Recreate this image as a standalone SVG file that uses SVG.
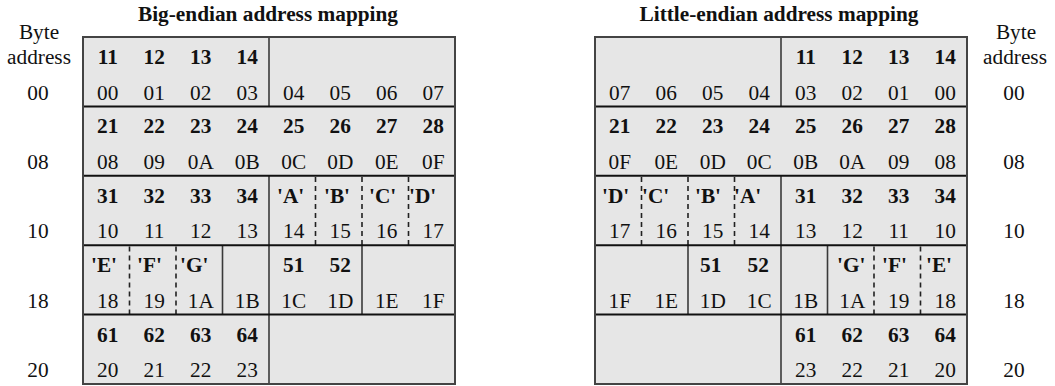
<svg xmlns="http://www.w3.org/2000/svg" width="1055" height="386" viewBox="0 0 1055 386">
<style>
text{font-family:"Liberation Serif","Times New Roman",serif;font-size:21.3px;fill:#111}
.t{font-weight:bold;text-anchor:middle}
.b{font-weight:bold;text-anchor:middle}
.q{font-weight:bold}
.h{text-anchor:middle}
.lab{text-anchor:middle}
.bg{fill:#e6e6e6;stroke:none}
.sv{stroke:#3a3a3a;stroke-width:1.6}
.dv{stroke:#222;stroke-width:1.6;stroke-dasharray:5 4}
.hr{stroke:#111;stroke-width:2}
.ob{fill:none;stroke:#444;stroke-width:2}
</style>

<text class="t" x="268" y="21">Big-endian address mapping</text>
<text class="t" x="779" y="21">Little-endian address mapping</text>

<g id="addr-left">
<text class="lab" x="39" y="39">Byte</text>
<text class="lab" x="39" y="64">address</text>
<text class="lab" x="38" y="99.5">00</text>
<text class="lab" x="38" y="168.9">08</text>
<text class="lab" x="38" y="238.3">10</text>
<text class="lab" x="38" y="307.7">18</text>
<text class="lab" x="38" y="377.1">20</text>
</g>
<g id="addr-right">
<text class="lab" x="1016" y="39">Byte</text>
<text class="lab" x="1015" y="64">address</text>
<text class="lab" x="1014" y="99.5">00</text>
<text class="lab" x="1014" y="168.9">08</text>
<text class="lab" x="1014" y="238.3">10</text>
<text class="lab" x="1014" y="307.7">18</text>
<text class="lab" x="1014" y="377.1">20</text>
</g>

<g id="big-endian">
<rect class="bg" x="83" y="37" width="372" height="347"/>
<g id="be-row0">
<line class="sv" x1="269" y1="37" x2="269" y2="106.4"/>
<text class="b" x="107.75" y="64">11</text><text class="b" x="154.25" y="64">12</text><text class="b" x="200.75" y="64">13</text><text class="b" x="247.25" y="64">14</text>
<text class="h" x="107.75" y="99.5">00</text><text class="h" x="154.25" y="99.5">01</text><text class="h" x="200.75" y="99.5">02</text><text class="h" x="247.25" y="99.5">03</text>
<text class="h" x="293.75" y="99.5">04</text><text class="h" x="340.25" y="99.5">05</text><text class="h" x="386.75" y="99.5">06</text><text class="h" x="433.25" y="99.5">07</text>
</g>
<g id="be-row1">
<text class="b" x="107.75" y="133.4">21</text><text class="b" x="154.25" y="133.4">22</text><text class="b" x="200.75" y="133.4">23</text><text class="b" x="247.25" y="133.4">24</text>
<text class="b" x="293.75" y="133.4">25</text><text class="b" x="340.25" y="133.4">26</text><text class="b" x="386.75" y="133.4">27</text><text class="b" x="433.25" y="133.4">28</text>
<text class="h" x="107.75" y="168.9">08</text><text class="h" x="154.25" y="168.9">09</text><text class="h" x="200.75" y="168.9">0A</text><text class="h" x="247.25" y="168.9">0B</text>
<text class="h" x="293.75" y="168.9">0C</text><text class="h" x="340.25" y="168.9">0D</text><text class="h" x="386.75" y="168.9">0E</text><text class="h" x="433.25" y="168.9">0F</text>
</g>
<g id="be-row2">
<line class="sv" x1="269" y1="175.8" x2="269" y2="245.2"/>
<line class="dv" x1="315.5" y1="177" x2="315.5" y2="245.2"/>
<line class="dv" x1="362" y1="177" x2="362" y2="245.2"/>
<line class="dv" x1="408.5" y1="177" x2="408.5" y2="245.2"/>
<text class="b" x="107.75" y="202.8">31</text><text class="b" x="154.25" y="202.8">32</text><text class="b" x="200.75" y="202.8">33</text><text class="b" x="247.25" y="202.8">34</text>
<text class="q" x="277" y="202.8">'A'</text><text class="q" x="324" y="202.8">'B'</text><text class="q" x="369" y="202.8">'C'</text><text class="q" x="409" y="202.8">'D'</text>
<text class="h" x="107.75" y="238.3">10</text><text class="h" x="154.25" y="238.3">11</text><text class="h" x="200.75" y="238.3">12</text><text class="h" x="247.25" y="238.3">13</text>
<text class="h" x="293.75" y="238.3">14</text><text class="h" x="340.25" y="238.3">15</text><text class="h" x="386.75" y="238.3">16</text><text class="h" x="433.25" y="238.3">17</text>
</g>
<g id="be-row3">
<line class="dv" x1="129.5" y1="246.4" x2="129.5" y2="314.6"/>
<line class="dv" x1="176" y1="246.4" x2="176" y2="314.6"/>
<line class="sv" x1="222.5" y1="245.2" x2="222.5" y2="314.6"/>
<line class="sv" x1="269" y1="245.2" x2="269" y2="314.6"/>
<line class="sv" x1="362" y1="245.2" x2="362" y2="314.6"/>
<text class="q" x="91" y="272.2">'E'</text><text class="q" x="137" y="272.2">'F'</text><text class="q" x="180" y="272.2">'G'</text>
<text class="b" x="293.75" y="272.2">51</text><text class="b" x="340.25" y="272.2">52</text>
<text class="h" x="107.75" y="307.7">18</text><text class="h" x="154.25" y="307.7">19</text><text class="h" x="200.75" y="307.7">1A</text><text class="h" x="247.25" y="307.7">1B</text>
<text class="h" x="293.75" y="307.7">1C</text><text class="h" x="340.25" y="307.7">1D</text><text class="h" x="386.75" y="307.7">1E</text><text class="h" x="433.25" y="307.7">1F</text>
</g>
<g id="be-row4">
<line class="sv" x1="269" y1="314.6" x2="269" y2="384"/>
<text class="b" x="107.75" y="341.6">61</text><text class="b" x="154.25" y="341.6">62</text><text class="b" x="200.75" y="341.6">63</text><text class="b" x="247.25" y="341.6">64</text>
<text class="h" x="107.75" y="377.1">20</text><text class="h" x="154.25" y="377.1">21</text><text class="h" x="200.75" y="377.1">22</text><text class="h" x="247.25" y="377.1">23</text>
</g>
<line class="hr" x1="83" y1="106.4" x2="455" y2="106.4"/>
<line class="hr" x1="83" y1="175.8" x2="455" y2="175.8"/>
<line class="hr" x1="83" y1="245.2" x2="455" y2="245.2"/>
<line class="hr" x1="83" y1="314.6" x2="455" y2="314.6"/>
<rect class="ob" x="83" y="37" width="372" height="347"/>
</g>

<g id="little-endian">
<rect class="bg" x="595" y="37" width="372" height="347"/>
<g id="le-row0">
<line class="sv" x1="781" y1="37" x2="781" y2="106.4"/>
<text class="b" x="805.75" y="64">11</text><text class="b" x="852.25" y="64">12</text><text class="b" x="898.75" y="64">13</text><text class="b" x="945.25" y="64">14</text>
<text class="h" x="619.75" y="99.5">07</text><text class="h" x="666.25" y="99.5">06</text><text class="h" x="712.75" y="99.5">05</text><text class="h" x="759.25" y="99.5">04</text>
<text class="h" x="805.75" y="99.5">03</text><text class="h" x="852.25" y="99.5">02</text><text class="h" x="898.75" y="99.5">01</text><text class="h" x="945.25" y="99.5">00</text>
</g>
<g id="le-row1">
<text class="b" x="619.75" y="133.4">21</text><text class="b" x="666.25" y="133.4">22</text><text class="b" x="712.75" y="133.4">23</text><text class="b" x="759.25" y="133.4">24</text>
<text class="b" x="805.75" y="133.4">25</text><text class="b" x="852.25" y="133.4">26</text><text class="b" x="898.75" y="133.4">27</text><text class="b" x="945.25" y="133.4">28</text>
<text class="h" x="619.75" y="168.9">0F</text><text class="h" x="666.25" y="168.9">0E</text><text class="h" x="712.75" y="168.9">0D</text><text class="h" x="759.25" y="168.9">0C</text>
<text class="h" x="805.75" y="168.9">0B</text><text class="h" x="852.25" y="168.9">0A</text><text class="h" x="898.75" y="168.9">09</text><text class="h" x="945.25" y="168.9">08</text>
</g>
<g id="le-row2">
<line class="dv" x1="641.5" y1="177" x2="641.5" y2="245.2"/>
<line class="dv" x1="688" y1="177" x2="688" y2="245.2"/>
<line class="dv" x1="734.5" y1="177" x2="734.5" y2="245.2"/>
<line class="sv" x1="781" y1="175.8" x2="781" y2="245.2"/>
<text class="q" x="602" y="202.8">'D'</text><text class="q" x="642" y="202.8">'C'</text><text class="q" x="695" y="202.8">'B'</text><text class="q" x="734" y="202.8">'A'</text>
<text class="b" x="805.75" y="202.8">31</text><text class="b" x="852.25" y="202.8">32</text><text class="b" x="898.75" y="202.8">33</text><text class="b" x="945.25" y="202.8">34</text>
<text class="h" x="619.75" y="238.3">17</text><text class="h" x="666.25" y="238.3">16</text><text class="h" x="712.75" y="238.3">15</text><text class="h" x="759.25" y="238.3">14</text>
<text class="h" x="805.75" y="238.3">13</text><text class="h" x="852.25" y="238.3">12</text><text class="h" x="898.75" y="238.3">11</text><text class="h" x="945.25" y="238.3">10</text>
</g>
<g id="le-row3">
<line class="sv" x1="688" y1="245.2" x2="688" y2="314.6"/>
<line class="sv" x1="781" y1="245.2" x2="781" y2="314.6"/>
<line class="sv" x1="827.5" y1="245.2" x2="827.5" y2="314.6"/>
<line class="dv" x1="874" y1="246.4" x2="874" y2="314.6"/>
<line class="dv" x1="920.5" y1="246.4" x2="920.5" y2="314.6"/>
<text class="b" x="710.75" y="272.2">51</text><text class="b" x="758.25" y="272.2">52</text>
<text class="q" x="837" y="272.2">'G'</text><text class="q" x="882" y="272.2">'F'</text><text class="q" x="926" y="272.2">'E'</text>
<text class="h" x="619.75" y="307.7">1F</text><text class="h" x="666.25" y="307.7">1E</text><text class="h" x="712.75" y="307.7">1D</text><text class="h" x="759.25" y="307.7">1C</text>
<text class="h" x="805.75" y="307.7">1B</text><text class="h" x="852.25" y="307.7">1A</text><text class="h" x="898.75" y="307.7">19</text><text class="h" x="945.25" y="307.7">18</text>
</g>
<g id="le-row4">
<line class="sv" x1="781" y1="314.6" x2="781" y2="384"/>
<text class="b" x="805.75" y="341.6">61</text><text class="b" x="852.25" y="341.6">62</text><text class="b" x="898.75" y="341.6">63</text><text class="b" x="945.25" y="341.6">64</text>
<text class="h" x="805.75" y="377.1">23</text><text class="h" x="852.25" y="377.1">22</text><text class="h" x="898.75" y="377.1">21</text><text class="h" x="945.25" y="377.1">20</text>
</g>
<line class="hr" x1="595" y1="106.4" x2="967" y2="106.4"/>
<line class="hr" x1="595" y1="175.8" x2="967" y2="175.8"/>
<line class="hr" x1="595" y1="245.2" x2="967" y2="245.2"/>
<line class="hr" x1="595" y1="314.6" x2="967" y2="314.6"/>
<rect class="ob" x="595" y="37" width="372" height="347"/>
</g>
</svg>
